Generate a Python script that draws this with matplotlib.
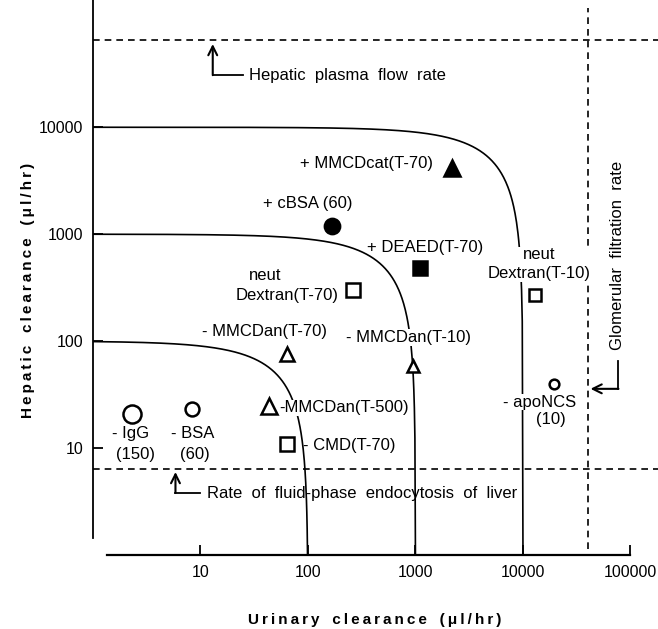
import numpy as np
import matplotlib
matplotlib.use("Agg")
import matplotlib.pyplot as plt

plt.rcParams['font.family'] = ['Liberation Sans', 'DejaVu Sans']

# ---------------- data ----------------
names = ["IgG", "BSA", "MMCDan(T-500)", "CMD(T-70)", "MMCDan(T-70)", "MMCDan(T-10)",
         "neut Dextran(T-70)", "cBSA", "DEAED(T-70)", "MMCDcat(T-70)",
         "neut Dextran(T-10)", "apoNCS"]
urinary = [2.3, 8.4, 43, 64, 64, 940, 260, 166, 1090, 2200, 13000, 19600]
hepatic = [21, 23, 25, 10.9, 75, 59, 300, 1200, 480, 4200, 270, 40]
markers = ["o", "o", "^", "s", "^", "^", "s", "o", "s", "^", "s", "o"]
filled = [False, False, False, False, False, False, False, True, True, True, False, False]
msizes = [13, 10, 12, 9.5, 9.5, 8, 10, 11, 10.5, 12, 8, 7]

iso_levels = [100, 1000, 10000]          # total clearance curves
plasma_flow = 65000                       # hepatic plasma flow rate
endocytosis = 6.4                         # fluid-phase endocytosis rate
gfr = 40300                               # glomerular filtration rate

xticks = [10, 100, 1000, 10000, 100000]
xticklabels = ["10", "100", "1000", "10000", "100000"]
yticks = [10, 100, 1000, 10000]
yticklabels = ["10", "100", "1000", "10000"]

# ---------------- figure ----------------
fig = plt.figure(figsize=(6.58, 6.29), dpi=100)
ax = fig.add_axes([93/658, (629-555)/629, 565/658, 555/629])
ax.set_xscale("log")
ax.set_yscale("log")
xmax = 10**5.256
ymax = 10**5.19
ax.set_xlim(1, xmax)
ax.set_ylim(1, ymax)

# iso-clearance curves (urinary + hepatic = const)
for L in iso_levels:
    xs = np.logspace(0, np.log10(L - 1), 600)
    ax.plot(xs, L - xs, color="black", lw=1.2, zorder=2)

# reference lines
dash = (0, (4, 3))
ax.plot([1, xmax], [plasma_flow, plasma_flow], color="black", lw=1.2, ls=dash, zorder=2)
ax.plot([1, xmax], [endocytosis, endocytosis], color="black", lw=1.2, ls=dash, zorder=2)
ax.plot([gfr, gfr], [1.13, 1.3e5], color="black", lw=1.2, ls=dash, zorder=2)

# markers
for xv, yv, m, f, s in zip(urinary, hepatic, markers, filled, msizes):
    ax.plot([xv], [yv], marker=m, ms=s, mew=1.8, color="black",
            mfc="black" if f else "white", ls="none", zorder=5)

fs = 12
white = dict(facecolor="white", edgecolor="none", pad=0.5)

def lab(x, y, s, ha="left", bg=False):
    ax.text(x, y, s, fontsize=fs, ha=ha, va="center", zorder=4,
            bbox=white if bg else None)

lab(85, 4600, "+ MMCDcat(T-70)")
lab(38.5, 1940, "+ cBSA (60)")
lab(357, 750, "+ DEAED(T-70)")
lab(40.3, 410, "neut", ha="center")
lab(192, 266, "Dextran(T-70)", ha="right")
lab(10.4, 122, "- MMCDan(T-70)")
lab(228, 108, "- MMCDan(T-10)", bg=True)
lab(54.3, 23.8, "-MMCDan(T-500)", bg=True)
lab(90.8, 10.5, "- CMD(T-70)")
lab(2.23, 13.6, "- IgG", ha="center")
lab(2.48, 8.8, "(150)", ha="center")
lab(8.43, 13.6, "- BSA", ha="center")
lab(8.8, 8.8, "(60)", ha="center")
ax.text(10**4.15, 10**2.72, "neut\nDextran(T-10)", fontsize=fs, ha="center", va="center",
        zorder=4, linespacing=1.3, bbox=white)
lab(10**4.15, 10**1.43, "- apoNCS", ha="center", bg=True)
lab(10**4.26, 10**1.27, "(10)", ha="center", bg=True)

# annotations with bent arrows
lab(28.0, 30700, "Hepatic  plasma  flow  rate")
ax.plot([13.0, 25.0], [30700, 30700], color="black", lw=1.3)
ax.annotate("", xy=(13.0, 60000), xytext=(13.0, 30700),
            arrowprops=dict(arrowstyle="->", lw=1.5, color="black",
                            mutation_scale=16, shrinkA=0, shrinkB=0))

lab(11.6, 3.8, "Rate  of  fluid-phase  endocytosis  of  liver")
ax.plot([5.85, 10], [3.8, 3.8], color="black", lw=1.3)
ax.annotate("", xy=(5.85, 5.97), xytext=(5.85, 3.8),
            arrowprops=dict(arrowstyle="->", lw=1.5, color="black",
                            mutation_scale=16, shrinkA=0, shrinkB=0))

ax.text(75700, 631, "Glomerular  filtration  rate", fontsize=fs, rotation=90,
        ha="center", va="center")
ax.plot([77300, 77300], [65.5, 35.8], color="black", lw=1.3)
ax.annotate("", xy=(42500, 35.8), xytext=(77300, 35.8),
            arrowprops=dict(arrowstyle="->", lw=1.5, color="black",
                            mutation_scale=16, shrinkA=0, shrinkB=0))

# axes styling
for sp in ["top", "right"]:
    ax.spines[sp].set_visible(False)
ax.spines["left"].set_bounds(1.43, ymax)
ax.spines["bottom"].set_bounds(1.34, 1e5)
ax.spines["left"].set_linewidth(1.3)
ax.spines["bottom"].set_linewidth(1.6)
ax.set_xticks(xticks)
ax.set_xticklabels(xticklabels)
ax.set_yticks(yticks)
ax.set_yticklabels(yticklabels)
ax.minorticks_off()
ax.tick_params(axis="both", direction="in", length=7, width=1.3, labelsize=11.5, pad=7)

ts = "\u2009"
def track(s):
    return ts.join(list(s))

fig.text(375/658, 1 - 620/629, "   ".join(track(w) for w in ["Urinary", "clearance", "(\u03bcl/hr)"]),
         fontsize=11, fontweight="bold", ha="center", va="center")
fig.text(28/658, 1 - 290/629, "   ".join(track(w) for w in ["Hepatic", "clearance", "(\u03bcl/hr)"]),
         fontsize=11, fontweight="bold", ha="center", va="center", rotation=90)

fig.savefig("out.png", dpi=100)
